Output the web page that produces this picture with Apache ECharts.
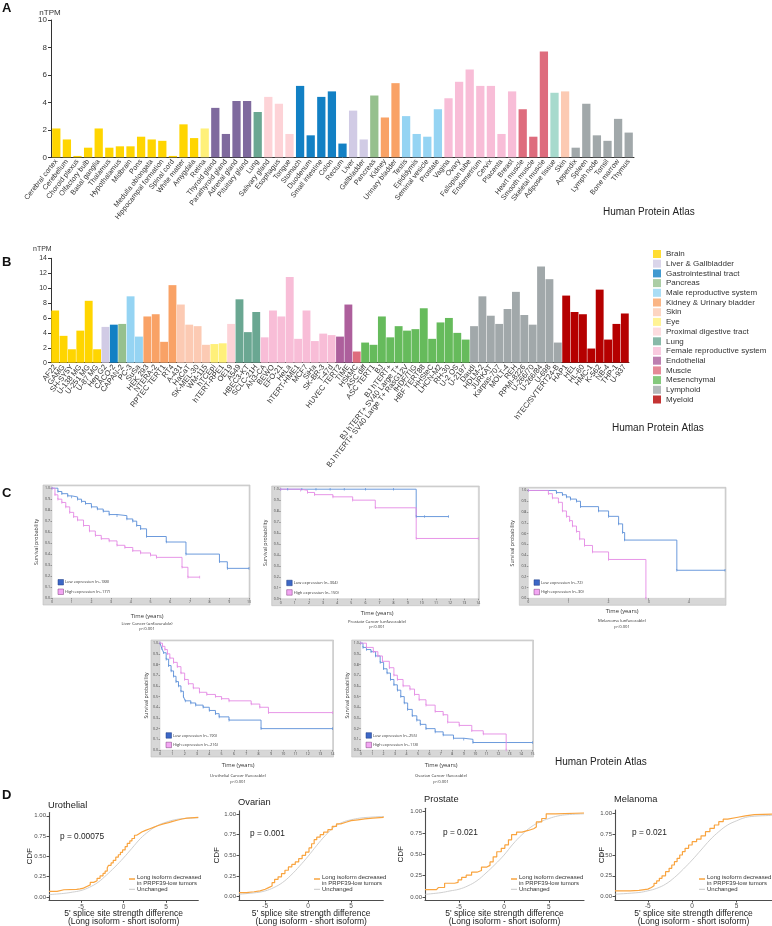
<!DOCTYPE html>
<html><head><meta charset="utf-8">
<script src="https://cdn.jsdelivr.net/npm/echarts@6/dist/echarts.min.js"></script>
<style>html,body{margin:0;padding:0;background:#fff}#c{width:772px;height:926px}</style>
</head><body><div id="c"></div>
<script>
// ---------- Panel A: tissue RNA expression ----------
const tissuesA = ['Cerebral cortex','Cerebellum','Choroid plexus','Olfactory bulb','Basal ganglia','Thalamus','Hypothalamus','Midbrain','Pons','Medulla oblongata','Hippocampal formation','Spinal cord','White matter','Amygdala','Retina','Thyroid gland','Parathyroid gland','Adrenal gland','Pituitary gland','Lung','Salivary gland','Esophagus','Tongue','Stomach','Duodenum','Small intestine','Colon','Rectum','Liver','Gallbladder','Pancreas','Kidney','Urinary bladder','Testis','Epididymis','Seminal vesicle','Prostate','Vagina','Ovary','Fallopian tube','Endometrium','Cervix','Placenta','Breast','Heart muscle','Smooth muscle','Skeletal muscle','Adipose tissue','Skin','Appendix','Spleen','Lymph node','Tonsil','Bone marrow','Thymus'];
const valuesA = [2.1,1.3,0.1,0.7,2.1,0.7,0.8,0.8,1.5,1.3,1.2,0.1,2.4,1.4,2.1,3.6,1.7,4.1,4.1,3.3,4.4,3.9,1.7,5.2,1.6,4.4,4.8,1.0,3.4,1.3,4.5,2.9,5.4,3.0,1.7,1.5,3.5,4.3,5.5,6.4,5.2,5.2,1.7,4.8,3.5,1.5,7.7,4.7,4.8,0.7,3.9,1.6,1.2,2.8,1.8];
const groupsA = ['Brain','Brain','Brain','Brain','Brain','Brain','Brain','Brain','Brain','Brain','Brain','Brain','Brain','Brain','Eye','Endocrine tissues','Endocrine tissues','Endocrine tissues','Endocrine tissues','Lung','Proximal digestive tract','Proximal digestive tract','Proximal digestive tract','Gastrointestinal tract','Gastrointestinal tract','Gastrointestinal tract','Gastrointestinal tract','Gastrointestinal tract','Liver & Gallbladder','Liver & Gallbladder','Pancreas','Kidney & Urinary bladder','Kidney & Urinary bladder','Male reproductive system','Male reproductive system','Male reproductive system','Male reproductive system','Female reproductive system','Female reproductive system','Female reproductive system','Female reproductive system','Female reproductive system','Female reproductive system','Female reproductive system','Muscle','Muscle','Muscle','Adipose & soft tissue','Skin','Lymphoid','Lymphoid','Lymphoid','Lymphoid','Lymphoid','Lymphoid'];
const ticksA = [0,2,4,6,8,10];

// ---------- Panel B: cell line RNA expression ----------
const cellLinesB = ['AF22','GAMG','SH-SY5Y','U-138 MG','U-251 MG','U-87 MG','Hep G2','CACO-2','CAPAN-2','PC-3','SuSa','HEK 293','NTERA-2','RPTEC TERT1','RT4','A-431','HaCaT','SK-MEL-30','WM-115','hTCEpi','hTERT-RPE1','OE19','A549','HBEC3-KT','SCLC-21H','AN3-CA','BEWO','EFO-21','HeLa','hTERT-HME1','MCF7','SiHa','SK-BR-3','T-47d','HUVEC TERT2','TIME','HSkMC','ASC diff','ASC TERT1','BJ','BJ hTERT+','BJ hTERT+ SV40 Large T+','BJ hTERT+ SV40 Large T+ RasG12V','fHDF/TIG','HBF TERT88','HHSteC','LHCN-M2','RH-30','U-2 OS','U-2197','Daudi','HDLM-2','JURKAT','Karpas-707','MOLT-4','REH','RPMI-8226','U-266/70','U-266/84','U-698','hTEC/SVTERT24-B','HAP1','HEL','HL-60','HMC-1','K-562','NB-4','THP-1','U-937'];
const valuesB = [7.0,3.6,1.8,4.3,8.3,1.8,4.8,5.1,5.2,8.9,3.5,6.2,6.5,2.8,10.4,7.8,5.1,4.9,2.4,2.5,2.6,5.2,8.5,4.1,6.8,3.4,7.0,6.2,11.5,3.2,7.0,2.9,3.9,3.7,3.5,7.8,1.5,2.7,2.4,6.2,3.4,4.9,4.3,4.5,7.3,3.2,5.4,6.0,4.0,3.1,4.9,8.9,6.3,5.2,7.2,9.5,6.4,5.1,12.9,11.2,2.7,9.0,6.8,6.5,1.9,9.8,3.1,5.2,6.6];
const groupsB = ['Brain','Brain','Brain','Brain','Brain','Brain','Liver & Gallbladder','Gastrointestinal tract','Pancreas','Male reproductive system','Male reproductive system','Kidney & Urinary bladder','Kidney & Urinary bladder','Kidney & Urinary bladder','Kidney & Urinary bladder','Skin','Skin','Skin','Skin','Eye','Eye','Proximal digestive tract','Lung','Lung','Lung','Female reproductive system','Female reproductive system','Female reproductive system','Female reproductive system','Female reproductive system','Female reproductive system','Female reproductive system','Female reproductive system','Female reproductive system','Endothelial','Endothelial','Muscle','Mesenchymal','Mesenchymal','Mesenchymal','Mesenchymal','Mesenchymal','Mesenchymal','Mesenchymal','Mesenchymal','Mesenchymal','Mesenchymal','Mesenchymal','Mesenchymal','Mesenchymal','Lymphoid','Lymphoid','Lymphoid','Lymphoid','Lymphoid','Lymphoid','Lymphoid','Lymphoid','Lymphoid','Lymphoid','Lymphoid','Myeloid','Myeloid','Myeloid','Myeloid','Myeloid','Myeloid','Myeloid','Myeloid'];
const legendB = ['Brain','Liver & Gallbladder','Gastrointestinal tract','Pancreas','Male reproductive system','Kidney & Urinary bladder','Skin','Eye','Proximal digestive tract','Lung','Female reproductive system','Endothelial','Muscle','Mesenchymal','Lymphoid','Myeloid'];
const ticksB = [0,2,4,6,8,10,12,14];

// ---------- Panel C: Kaplan-Meier curves [years, survival] ----------
const liverLow = [[0,1],[0.3,0.97],[0.5,0.95],[0.8,0.93],[1.0,0.92],[1.3,0.90],[1.5,0.88],[1.7,0.86],[2.0,0.83],[2.3,0.81],[2.6,0.79],[2.9,0.76],[3.3,0.75],[3.8,0.72],[4.1,0.70],[4.3,0.66],[4.5,0.63],[4.8,0.56],[5.8,0.51],[6.8,0.40],[8.5,0.33],[8.9,0.27],[10,0.27]];
const liverHigh = [[0,1],[0.15,0.94],[0.3,0.90],[0.5,0.87],[0.7,0.83],[0.9,0.78],[1.1,0.74],[1.3,0.71],[1.6,0.66],[1.9,0.61],[2.2,0.57],[2.5,0.54],[2.9,0.52],[3.3,0.48],[3.7,0.46],[4.1,0.43],[4.5,0.41],[5.0,0.39],[5.3,0.37],[6.6,0.28],[6.9,0.19],[7.5,0.19]];
const prostateLow = [[0,1],[0.5,1],[1.5,1],[2.5,1],[3.5,1],[4.5,1],[6,1],[8,1],[9.6,0.75],[10.2,0.75],[11.9,0.75]];
const prostateHigh = [[0,1],[1.4,0.99],[1.9,0.97],[2.4,0.95],[3.7,0.93],[5.1,0.90],[6.7,0.83],[9.6,0.55],[14,0.55]];
const melanomaLow = [[0,1],[0.7,0.98],[0.85,0.96],[0.95,0.94],[1.05,0.92],[1.2,0.90],[1.3,0.85],[1.75,0.81],[2.0,0.76],[2.25,0.69],[2.35,0.61],[2.4,0.54],[3.7,0.26],[4.9,0.26]];
const melanomaHigh = [[0,1],[0.5,0.97],[0.6,0.93],[0.75,0.89],[0.85,0.81],[0.95,0.76],[1.03,0.72],[1.1,0.67],[1.2,0.62],[1.28,0.55],[1.4,0.49],[1.6,0.43],[2.0,0.36],[2.93,0.0]];
const urothelialLow = [[0,1],[0.15,0.95],[0.3,0.91],[0.5,0.85],[0.7,0.79],[0.9,0.74],[1.1,0.69],[1.3,0.64],[1.5,0.60],[1.7,0.55],[1.9,0.50],[2.05,0.46],[2.5,0.44],[2.9,0.42],[3.5,0.40],[4.0,0.37],[4.5,0.34],[4.8,0.31],[5.6,0.28],[8.2,0.20],[14,0.20]];
const urothelialHigh = [[0,1],[0.2,0.97],[0.4,0.94],[0.6,0.90],[0.8,0.86],[1.1,0.82],[1.4,0.78],[1.7,0.72],[2.0,0.66],[2.3,0.62],[2.7,0.58],[3.2,0.54],[3.8,0.52],[4.5,0.50],[5.0,0.48],[5.6,0.46],[7.4,0.43],[8.1,0.40],[8.8,0.35],[14,0.35]];
const ovarianLow = [[0,1],[0.2,0.96],[0.5,0.94],[0.9,0.92],[1.3,0.88],[1.7,0.82],[2.0,0.76],[2.3,0.72],[2.6,0.66],[2.9,0.61],[3.2,0.56],[3.5,0.50],[3.8,0.44],[4.1,0.38],[4.5,0.32],[4.9,0.28],[5.2,0.24],[5.7,0.20],[6.5,0.17],[7.2,0.14],[8.1,0.11],[9.0,0.10],[9.8,0.07],[15,0.07]];
const ovarianHigh = [[0,1],[0.5,0.96],[1.1,0.92],[1.5,0.88],[1.9,0.83],[2.5,0.77],[2.9,0.70],[3.2,0.66],[3.7,0.60],[4.3,0.57],[4.7,0.52],[5.1,0.47],[5.7,0.42],[6.5,0.36],[7.2,0.33],[7.6,0.26],[8.6,0.23],[9.7,0.18],[10.7,0.15],[12.7,0.0]];
const kmTitles = ['Liver Cancer (unfavorable)','Prostate Cancer (unfavorable)','Melanoma (unfavorable)','Urothelial Cancer (favorable)','Ovarian Cancer (favorable)'];
const kmP = ['p<0.001','p<0.001','p<0.001','p<0.001','p<0.001'];
const kmNLow = [188,304,72,190,255];
const kmNHigh = [177,150,30,216,118];
const kmXMax = [10,14,4.9,14,15];

// ---------- Panel D: CDF curves [splice diff, CDF] ----------
const uroOrange = [[-8.75,0.07],[-7.8,0.09],[-7.0,0.095],[-5.5,0.10],[-5.1,0.11],[-4.7,0.13],[-4.3,0.15],[-3.9,0.18],[-3.5,0.20],[-3.1,0.23],[-2.75,0.26],[-2.4,0.29],[-2.15,0.32],[-1.9,0.36],[-1.75,0.39],[-1.45,0.42],[-1.2,0.45],[-0.9,0.49],[-0.6,0.52],[-0.35,0.55],[-0.1,0.58],[0.2,0.62],[0.45,0.66],[0.75,0.69],[1.0,0.72],[1.3,0.76],[1.55,0.78],[1.85,0.80],[2.15,0.82],[2.6,0.84],[3.1,0.86],[3.6,0.88],[4.1,0.90],[4.7,0.915],[5.3,0.93],[5.8,0.945],[6.3,0.96],[6.9,0.97],[7.45,0.98],[8.8,0.985]];
const uroGray = [[-8.75,0.03],[-7,0.045],[-6,0.06],[-5,0.08],[-4,0.12],[-3,0.18],[-2,0.27],[-1,0.37],[0,0.48],[1,0.60],[2,0.72],[3,0.81],[4,0.88],[5,0.92],[6,0.95],[7,0.965],[8.8,0.975]];
const ovaOrange = [[-8.05,0.05],[-7.2,0.06],[-6.3,0.07],[-5.6,0.09],[-5.0,0.11],[-4.6,0.13],[-4.2,0.17],[-3.9,0.21],[-3.5,0.24],[-3.1,0.28],[-2.7,0.32],[-2.3,0.36],[-1.9,0.39],[-1.5,0.42],[-1.1,0.46],[-0.7,0.50],[-0.3,0.54],[0.1,0.59],[0.4,0.64],[0.7,0.69],[1.0,0.72],[1.4,0.75],[1.8,0.78],[2.3,0.81],[2.8,0.85],[3.3,0.88],[3.8,0.90],[4.4,0.92],[5.0,0.93],[5.8,0.94],[6.6,0.95],[7.5,0.96],[8.75,0.97]];
const ovaGray = [[-8.05,0.03],[-6,0.05],[-5,0.07],[-4,0.11],[-3,0.17],[-2,0.26],[-1,0.37],[0,0.49],[1,0.62],[2,0.74],[3,0.84],[4,0.90],[5,0.93],[6,0.95],[7,0.96],[8.75,0.97]];
const proOrange = [[-8.78,0.085],[-7.5,0.09],[-7.3,0.11],[-6.6,0.16],[-5.5,0.17],[-5.1,0.20],[-4.7,0.23],[-4.2,0.255],[-3.6,0.29],[-3.0,0.31],[-2.5,0.35],[-1.9,0.37],[-1.55,0.41],[-1.2,0.47],[-0.8,0.53],[-0.3,0.57],[0.1,0.61],[0.5,0.67],[0.85,0.73],[1.4,0.76],[2.0,0.78],[2.7,0.80],[3.3,0.82],[3.6,0.88],[4.2,0.92],[4.7,0.975],[5.7,0.985],[8.9,0.985]];
const proGray = [[-8.78,0.03],[-7,0.05],[-6,0.07],[-5,0.09],[-4,0.13],[-3,0.19],[-2,0.28],[-1,0.38],[0,0.49],[1,0.62],[2,0.73],[3,0.82],[4,0.88],[5,0.92],[6,0.95],[7,0.965],[8.9,0.975]];
const melOrange = [[-8.7,0.07],[-7.0,0.075],[-6.0,0.09],[-5.0,0.11],[-4.6,0.13],[-4.3,0.16],[-4.0,0.19],[-3.7,0.22],[-3.4,0.25],[-3.0,0.30],[-2.6,0.34],[-2.3,0.38],[-2.0,0.42],[-1.7,0.46],[-1.4,0.50],[-1.1,0.54],[-0.8,0.58],[-0.4,0.62],[0,0.66],[0.5,0.69],[1.0,0.73],[1.5,0.78],[2.0,0.82],[2.5,0.86],[3.0,0.90],[3.5,0.93],[4.0,0.95],[5.0,0.97],[6.0,0.985],[7.0,0.99],[9.0,0.99]];
const melGray = [[-8.7,0.03],[-6,0.05],[-5,0.07],[-4,0.10],[-3,0.15],[-2,0.23],[-1,0.33],[0,0.44],[1,0.56],[2,0.68],[3,0.78],[4,0.86],[5,0.91],[6,0.95],[7,0.965],[9,0.975]];
const cdfTitles = ['Urothelial','Ovarian','Prostate','Melanoma'];
const cdfP = ['p = 0.00075','p = 0.001','p = 0.021','p = 0.021'];
const cdfTicksX = [-5,0,5];
const cdfTicksY = [0,0.25,0.5,0.75,1];

// ---------- styles & layout ----------
const groupColors = {'Brain':'#FFD500','Eye':'#FFF07A','Endocrine tissues':'#7F6A9E','Lung':'#6AA792','Proximal digestive tract':'#FDD3D7','Gastrointestinal tract':'#1280C4','Liver & Gallbladder':'#D1CBE5','Pancreas':'#96C08E','Kidney & Urinary bladder':'#F9A266','Male reproductive system':'#95D4F3','Female reproductive system':'#F8BDD7','Muscle':'#DE6C7D','Adipose & soft tissue':'#A7DACD','Skin':'#FCCAB3','Lymphoid':'#A1A8AA','Endothelial':'#AD5F9C','Mesenchymal':'#66BB5C','Myeloid':'#B50000'};
const F = 'Liberation Sans, Arial, Helvetica, sans-serif';
const KF = 'Open Sans, Liberation Sans, sans-serif';
const KM_LOW = '#5b8fd8', KM_HIGH = '#e48ae4';

const grids = [], xAxes = [], yAxes = [], series = [], graphics = [];
function T(x, y, text, o) {
  o = o || {};
  graphics.push({type:'text', x:x, y:y, rotation:o.rot||0, z:o.z||5, silent:true,
    style:{text:text, fill:o.color||'#222', fontSize:o.size||10, fontFamily:o.font||F, fontWeight:o.weight||'normal',
      textAlign:o.align||'left', textVerticalAlign:o.valign||'middle', align:o.align||'left', verticalAlign:o.valign||'middle', lineHeight:o.lh}});
}
function R(x, y, w, h, fill, stroke, lw, z) {
  graphics.push({type:'rect', shape:{x:x,y:y,width:w,height:h}, z:(z===undefined?1:z), silent:true, style:{fill:fill, stroke:stroke||null, lineWidth:lw||0}});
}
function Lseg(x1,y1,x2,y2,color,w){ graphics.push({type:'line', shape:{x1:x1,y1:y1,x2:x2,y2:y2}, z:5, silent:true, style:{stroke:color, lineWidth:w}}); }

// Panel A
grids.push({left:51, top:20, width:583, height:137.3});
xAxes.push({type:'category', gridIndex:0, data:tissuesA,
  axisLine:{lineStyle:{color:'#333', width:1}}, axisTick:{alignWithLabel:true, length:3, lineStyle:{color:'#333'}},
  axisLabel:{interval:0, rotate:52, fontSize:7.2, color:'#333', fontFamily:F, margin:3}});
yAxes.push({type:'value', gridIndex:0, min:0, max:10, interval:2, splitLine:{show:false},
  axisLine:{show:true, lineStyle:{color:'#333'}}, axisTick:{show:true, length:3, lineStyle:{color:'#333'}},
  axisLabel:{fontSize:8, color:'#333', fontFamily:F, margin:4}});
series.push({type:'bar', xAxisIndex:0, yAxisIndex:0, barCategoryGap:'22%',
  data:valuesA.map((v,i)=>({value:v, itemStyle:{color:groupColors[groupsA[i]]}}))});
T(50, 12.5, 'nTPM', {size:8, align:'center', color:'#333'});
T(2, 8, 'A', {size:13, weight:'bold', color:'#111'});
T(603, 212, 'Human Protein Atlas', {size:10, color:'#222'});

// Panel B
grids.push({left:51, top:258.3, width:578, height:104.4});
xAxes.push({type:'category', gridIndex:1, data:cellLinesB,
  axisLine:{lineStyle:{color:'#333', width:1}}, axisTick:{alignWithLabel:true, length:2.5, lineStyle:{color:'#333'}},
  axisLabel:{interval:0, rotate:52, fontSize:7.6, color:'#333', fontFamily:F, margin:3}});
yAxes.push({type:'value', gridIndex:1, min:0, max:14, interval:2, splitLine:{show:false},
  axisLine:{show:true, lineStyle:{color:'#333'}}, axisTick:{show:true, length:3, lineStyle:{color:'#333'}},
  axisLabel:{fontSize:7, color:'#333', fontFamily:F, margin:4}});
series.push({type:'bar', xAxisIndex:1, yAxisIndex:1, barCategoryGap:'6%',
  data:valuesB.map((v,i)=>({value:v, itemStyle:{color:groupColors[groupsB[i]]}}))});
legendB.forEach(g=>series.push({type:'scatter', name:g, xAxisIndex:1, yAxisIndex:1, data:[], itemStyle:{color:groupColors[g]}}));
T(51.7, 249.5, 'nTPM', {size:7, align:'right', color:'#333'});
T(2, 262, 'B', {size:13, weight:'bold', color:'#111'});
T(612, 428, 'Human Protein Atlas', {size:10, color:'#222'});

// Panel C
const kmBoxes = [[52,486,249,598],[280.7,487,478.3,598.7],[528.3,488.3,725,598.3],[160,641,332.5,750],[360.7,641,532.5,750]];
const kmTextY = [[616,624.3,629.3],[613,621.5,627],[611.7,621,626.7],[765.7,776,781.7],[765.7,776,781.7]];
const kmTextX = [147,377,622,238,441];
const kmLegX = [58,286.7,534,166,366];
const kmData = [[liverLow,liverHigh],[prostateLow,prostateHigh],[melanomaLow,melanomaHigh],[urothelialLow,urothelialHigh],[ovarianLow,ovarianHigh]];
kmBoxes.forEach((b,k)=>{
  const gi = grids.length;
  R(b[0]-9, b[1]-1, (b[2]+1)-(b[0]-9), (b[3]+7)-(b[1]-1), '#d7d7d7', '#bdbdbd', 0.6, -10);
  grids.push({left:b[0], top:b[1], width:b[2]-b[0], height:b[3]-b[1], show:true, backgroundColor:'#fff', borderColor:'#c4c4c4', borderWidth:0.5});
  const xv = []; for (let t=0; t<=kmXMax[k]; t++) xv.push(t);
  xAxes.push({type:'value', gridIndex:gi, min:0, max:kmXMax[k], splitLine:{show:false}, axisLine:{show:false},
    axisTick:{show:true, customValues:xv, length:1.5, lineStyle:{color:'#555', width:0.5}},
    axisLabel:{customValues:xv, fontSize:3.5, color:'#444', fontFamily:KF, margin:2}});
  const yv = [0,0.1,0.2,0.3,0.4,0.5,0.6,0.7,0.8,0.9,1];
  yAxes.push({type:'value', gridIndex:gi, min:0, max:1.02, splitLine:{show:false}, axisLine:{show:false},
    axisTick:{show:true, customValues:yv, length:1.5, lineStyle:{color:'#555', width:0.5}},
    axisLabel:{customValues:yv, fontSize:3.5, color:'#444', fontFamily:KF, margin:2, formatter:v=>v.toFixed(1)}});
  [[kmData[k][0],KM_LOW],[kmData[k][1],KM_HIGH]].forEach(([d,c])=>series.push({type:'line', xAxisIndex:gi, yAxisIndex:gi, step:'end', data:d,
    showSymbol:true, symbol:'rect', symbolSize:[0.7,2.6], itemStyle:{color:c}, lineStyle:{color:c, width:0.9}, z:3}));
  const bottom = k>=3;
  T(b[0]-(bottom?13.5:15.5), (b[1]+b[3])/2, 'Survival probability', {size:5.2, font:KF, rot:Math.PI/2, align:'center', color:'#333'});
  T(kmTextX[k], kmTextY[k][0], 'Time (years)', {size:5.8, font:KF, align:'center', color:'#333'});
  T(kmTextX[k], kmTextY[k][1], kmTitles[k], {size:4.2, font:KF, align:'center', color:'#333'});
  T(kmTextX[k], kmTextY[k][2], kmP[k], {size:4.2, font:KF, align:'center', color:'#333'});
  const ly = b[3] - (bottom?17.3:18.5);
  R(kmLegX[k], ly, 5.5, 5.5, '#3c67c6', '#1d3a80', 0.5, 6);
  R(kmLegX[k], ly+9.5, 5.5, 5.5, '#f3a6f3', '#7a3a7a', 0.5, 6);
  T(kmLegX[k]+7, ly+2.8, 'Low expression (n='+kmNLow[k]+')', {size:4, font:KF, color:'#333'});
  T(kmLegX[k]+7, ly+12.3, 'High expression (n='+kmNHigh[k]+')', {size:4, font:KF, color:'#333'});
});
T(2, 493, 'C', {size:13, weight:'bold', color:'#111'});
T(555, 762, 'Human Protein Atlas', {size:10, color:'#222'});

// Panel D
const cdfGrid = [[49,812.5,149.3,87.8],[239,810.7,144.3,89.3],[425,808.3,159,92],[615,810,157,90]];
const cdfXR = [[-8.75,8.8],[-8.05,8.75],[-8.78,8.9],[-8.7,9.0]];
const cdfData = [[uroOrange,uroGray],[ovaOrange,ovaGray],[proOrange,proGray],[melOrange,melGray]];
const cdfTitleY = [805,802,799,799];
const cdfPpos = [[60,837],[250,834],[443,833],[632,833]];
const cdfLegX = [129,314,511,699];
const cdfYlabX = [30,217,401,602];
cdfGrid.forEach((g,k)=>{
  const gi = grids.length;
  grids.push({left:g[0], top:g[1], width:g[2], height:g[3]});
  xAxes.push({type:'value', gridIndex:gi, min:cdfXR[k][0], max:cdfXR[k][1], splitLine:{show:false},
    axisLine:{show:true, onZero:false, lineStyle:{color:'#4d4d4d', width:1.1}},
    axisTick:{show:true, customValues:cdfTicksX, length:2.5, lineStyle:{color:'#4d4d4d'}},
    axisLabel:{customValues:cdfTicksX, fontSize:6.5, color:'#4d4d4d', fontFamily:F, margin:3}});
  yAxes.push({type:'value', gridIndex:gi, min:-0.04, max:1.04, splitLine:{show:false},
    axisLine:{show:true, onZero:false, lineStyle:{color:'#4d4d4d', width:1.1}},
    axisTick:{show:true, customValues:cdfTicksY, length:2.5, lineStyle:{color:'#4d4d4d'}},
    axisLabel:{customValues:cdfTicksY, fontSize:6, color:'#4d4d4d', fontFamily:F, margin:3, formatter:v=>v.toFixed(2)}});
  series.push({type:'line', xAxisIndex:gi, yAxisIndex:gi, data:cdfData[k][1], smooth:0.4, showSymbol:false, lineStyle:{color:'#c9c9c9', width:0.9}, z:2});
  series.push({type:'line', xAxisIndex:gi, yAxisIndex:gi, data:cdfData[k][0], step:'end', showSymbol:false, lineStyle:{color:'#F9A43F', width:1.2}, z:3});
  T(g[0]-1, cdfTitleY[k], cdfTitles[k], {size:9.3, color:'#222'});
  T(cdfYlabX[k], g[1]+g[3]/2, 'CDF', {size:8, rot:Math.PI/2, align:'center', color:'#222'});
  T(cdfPpos[k][0], cdfPpos[k][1], cdfP[k], {size:8.3, color:'#222'});
  Lseg(cdfLegX[k], 879, cdfLegX[k]+6, 879, '#F9A43F', 1.5);
  Lseg(cdfLegX[k], 889.3, cdfLegX[k]+6, 889.3, '#c9c9c9', 1);
  T(cdfLegX[k]+8, 877.3, 'Long isoform decreased', {size:6, color:'#333'});
  T(cdfLegX[k]+8, 883.3, 'in PRPF39-low tumors', {size:6, color:'#333'});
  T(cdfLegX[k]+8, 889.3, 'Unchanged', {size:6, color:'#333'});
  T(g[0]+g[2]/2, 913.5, "5' splice site strength difference", {size:8.5, align:'center', color:'#222'});
  T(g[0]+g[2]/2, 921.5, '(Long isoform - short isoform)', {size:8.5, align:'center', color:'#222'});
});
T(2, 795, 'D', {size:13, weight:'bold', color:'#111'});

const chart = echarts.init(document.getElementById('c'), null, {renderer:'canvas'});
chart.setOption({
  animation:false, backgroundColor:'#fff',
  grid:grids, xAxis:xAxes, yAxis:yAxes, series:series,
  legend:{data:legendB, left:653, top:250, orient:'vertical', icon:'rect', itemWidth:8, itemHeight:8, itemGap:1.7, padding:0, selectedMode:false,
    textStyle:{fontSize:8, color:'#333', fontFamily:F, lineHeight:8}},
  graphic:{elements:graphics}
});
</script></body></html>
